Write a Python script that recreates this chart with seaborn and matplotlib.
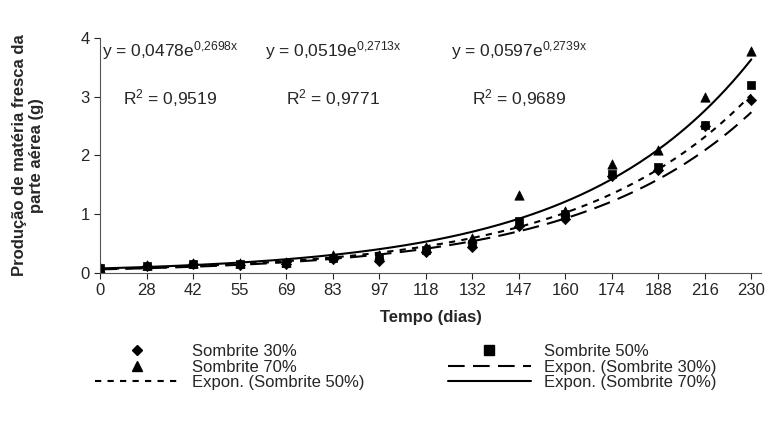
import matplotlib.pyplot as plt
import seaborn as sns
import numpy as np
from matplotlib.lines import Line2D

dias = ['0', '28', '42', '55', '69', '83', '97', '118', '132', '147', '160', '174', '188', '216', '230']
s30 = [0.08, 0.12, 0.15, 0.14, 0.15, 0.24, 0.20, 0.35, 0.45, 0.80, 0.92, 1.65, 1.75, 2.50, 2.95]
s50 = [0.08, 0.12, 0.15, 0.15, 0.17, 0.25, 0.25, 0.40, 0.50, 0.88, 1.00, 1.68, 1.80, 2.52, 3.20]
s70 = [0.08, 0.13, 0.17, 0.17, 0.18, 0.30, 0.30, 0.45, 0.60, 1.32, 1.05, 1.85, 2.10, 3.00, 3.78]
# trendline coefficients (a, b) for y = a*exp(b*x), x = 1..15
coef30 = (0.0478, 0.2698)
coef50 = (0.0519, 0.2713)
coef70 = (0.0597, 0.2739)

sns.set_style('white')
plt.rcParams['font.family'] = ['Liberation Sans', 'DejaVu Sans']
plt.rcParams['mathtext.fontset'] = 'custom'
plt.rcParams['mathtext.rm'] = 'Liberation Sans'
plt.rcParams['mathtext.default'] = 'regular'

fig = plt.figure(figsize=(7.66, 4.3), dpi=100)
ax = fig.add_axes([0.131, 0.365, 0.862, 0.547])

x = np.arange(1, len(dias) + 1)
xf = np.linspace(1, len(dias), 200)
sns.scatterplot(x=x, y=s30, marker='D', s=28, color='black', edgecolor='black', ax=ax)
sns.scatterplot(x=x, y=s50, marker='s', s=40, color='black', edgecolor='black', ax=ax)
sns.scatterplot(x=x, y=s70, marker='^', s=45, color='black', edgecolor='black', ax=ax)
ax.plot(xf, coef30[0] * np.exp(coef30[1] * xf), color='black', lw=1.5, dashes=(8, 4))
ax.plot(xf, coef50[0] * np.exp(coef50[1] * xf), color='black', lw=1.5, dashes=(3, 3))
ax.plot(xf, coef70[0] * np.exp(coef70[1] * xf), color='black', lw=1.5)

ax.set_xlim(1, len(dias) + 0.2)
ax.set_ylim(0, 4)
ax.set_xticks(x)
ax.set_xticklabels(dias)
ax.set_yticks([0, 1, 2, 3, 4])
ax.tick_params(axis='both', labelsize=12, length=4, direction='out', left=True, bottom=True)
for side in ['top', 'right']:
    ax.spines[side].set_visible(False)
for side in ['left', 'bottom']:
    ax.spines[side].set_color('#555555')
ax.set_xlabel('Tempo (dias)', fontsize=12, fontweight='bold', labelpad=8)
ax.set_ylabel('Produção de matéria fresca da\nparte aérea (g)', fontsize=12, fontweight='bold')
ax.yaxis.set_label_coords(-0.085, 0.5)

for xe, c, r2 in [(2.5, coef30, '0,9519'), (6.0, coef50, '0,9771'), (10.0, coef70, '0,9689')]:
    a = f'{c[0]:.4f}'.replace('.', ',')
    b = f'{c[1]:.4f}'.replace('.', '{,}')
    ax.text(xe, 3.78, f'y = {a}e$^{{{b}x}}$', fontsize=12.5, ha='center', va='center')
    ax.text(xe, 2.98, f'R$^2$ = {r2}', fontsize=12.5, ha='center', va='center')

handles = [
    Line2D([], [], ls='none', marker='D', ms=5, color='black'),
    Line2D([], [], ls='none', marker='s', ms=7, color='black'),
    Line2D([], [], ls='none', marker='^', ms=7, color='black'),
    Line2D([], [], color='black', lw=1.5, dashes=(8, 4)),
    Line2D([], [], color='black', lw=1.5, dashes=(3, 3)),
    Line2D([], [], color='black', lw=1.5),
]
labels = ['Sombrite 30%', 'Sombrite 50%', 'Sombrite 70%', 'Expon. (Sombrite 30%)',
          'Expon. (Sombrite 50%)', 'Expon. (Sombrite 70%)']
order = [0, 2, 4, 1, 3, 5]
fig.legend([handles[i] for i in order], [labels[i] for i in order], ncol=2,
           loc='upper center', bbox_to_anchor=(0.53, 0.215), frameon=False, fontsize=12,
           handlelength=5, columnspacing=5, labelspacing=0.02, borderaxespad=0.0)

plt.savefig('out.png')
